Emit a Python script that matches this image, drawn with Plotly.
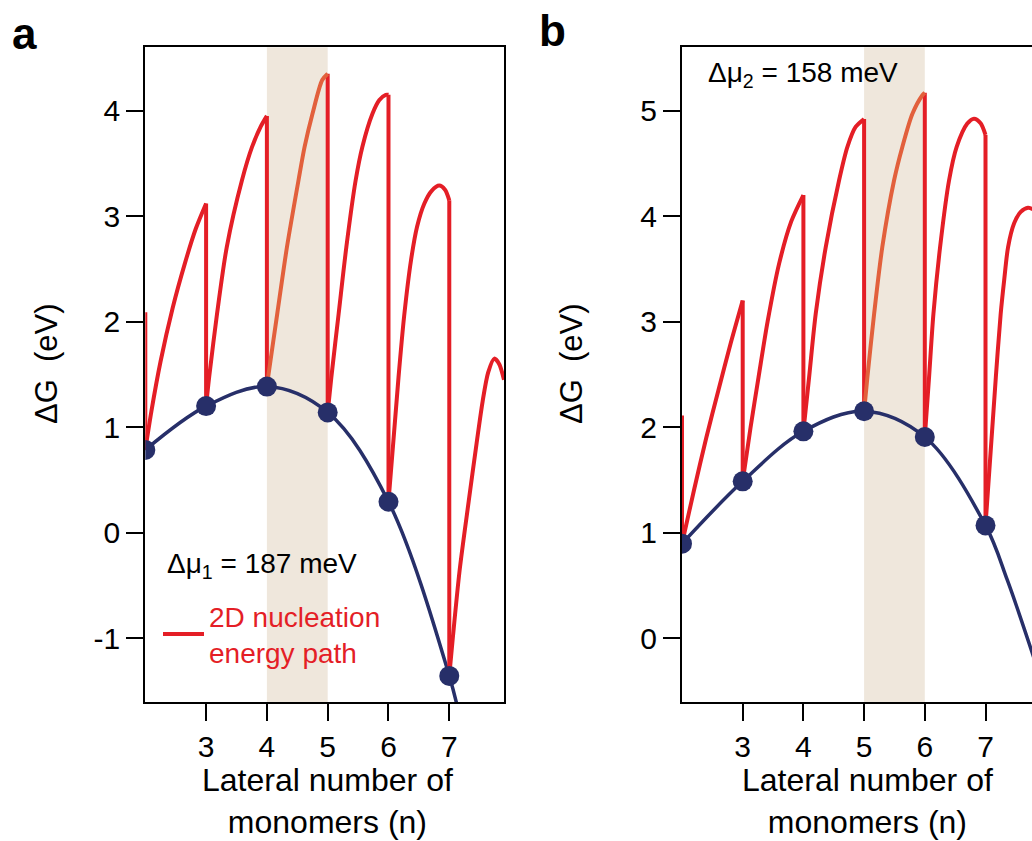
import plotly.graph_objects as go

# ---------------- data ----------------
n_sizes = [2, 3, 4, 5, 6, 7]
a_blue = [0.785, 1.20, 1.385, 1.14, 0.294, -1.357]
b_blue = [0.896, 1.487, 1.961, 2.151, 1.907, 1.069]
a_tail_x = [7.2]
a_tail_y = [-1.82]
b_tail_x = [7.36, 7.8]
b_tail_y = [0.55, -0.19]
a_drop_top = [2.09, 3.12, 3.95, 4.35, 4.15, 3.15]
b_drop_top = [2.11, 3.20, 4.20, 4.92, 5.17, 4.77]

a_path_x = [
    [2, 2.1, 2.25, 2.45, 2.65, 2.83, 3],
    [3, 3.05, 3.18, 3.34, 3.59, 3.756, 3.9, 4],
    [4, 4.02, 4.17, 4.33, 4.52, 4.62, 4.75, 4.91, 5],
    [5, 5.06, 5.18, 5.307, 5.46, 5.57, 5.736, 5.85, 5.955, 6],
    [6, 6.165, 6.257, 6.37, 6.47, 6.59, 6.71, 6.835, 6.93, 7],
    [7, 7.06, 7.17, 7.32, 7.45, 7.55, 7.64, 7.74, 7.82, 7.9],
]
a_path_y = [
    [0.785, 1.15, 1.62, 2.13, 2.55, 2.88, 3.12],
    [1.20, 1.473, 2.074, 2.707, 3.34, 3.656, 3.85, 3.95],
    [1.385, 1.473, 2.074, 2.707, 3.34, 3.656, 3.97, 4.29, 4.35],
    [1.14, 1.473, 2.074, 2.707, 3.34, 3.656, 3.97, 4.10, 4.15, 4.15],
    [0.294, 1.473, 2.05, 2.58, 2.90, 3.12, 3.24, 3.29, 3.25, 3.15],
    [-1.357, -0.985, -0.357, 0.30, 0.85, 1.25, 1.52, 1.65, 1.60, 1.45],
]
b_path_x = [
    [2, 2.2, 2.4, 2.6, 2.8, 3],
    [3, 3.13, 3.26, 3.41, 3.6, 3.8, 4],
    [4, 4.094, 4.203, 4.368, 4.588, 4.725, 4.86, 5],
    [5, 5.054, 5.165, 5.30, 5.494, 5.63, 5.796, 5.96, 6],
    [6, 6.07, 6.142, 6.252, 6.40, 6.525, 6.70, 6.81, 6.92, 7],
    [7, 7.17, 7.25, 7.307, 7.372, 7.47, 7.58, 7.7, 7.8],
]
b_path_y = [
    [0.896, 1.41, 1.90, 2.35, 2.79, 3.20],
    [1.487, 2.0, 2.47, 3.0, 3.55, 3.95, 4.2],
    [1.961, 2.473, 3.074, 3.707, 4.34, 4.656, 4.845, 4.92],
    [2.151, 2.473, 3.074, 3.707, 4.34, 4.656, 4.97, 5.146, 5.17],
    [1.907, 2.473, 3.074, 3.707, 4.34, 4.656, 4.877, 4.924, 4.88, 4.77],
    [1.069, 2.473, 3.074, 3.39, 3.707, 3.93, 4.04, 4.08, 4.06],
]
a_band = [4, 5]
b_band = [5, 6]
x_ticks = [3, 4, 5, 6, 7]
a_y_ticks = [-1, 0, 1, 2, 3, 4]
a_y_text = ["-1", "0", "1", "2", "3", "4"]
b_y_ticks = [0, 1, 2, 3, 4, 5]
b_y_text = ["0", "1", "2", "3", "4", "5"]

# ---------------- style ----------------
W, H = 1032, 841
RED = "#E41E26"
ORANGE = "#E2603C"
NAVY = "#272F69"
BAND = "#EFE7DC"
FONT = "Liberation Sans, Arial, Helvetica, sans-serif"


def px(x):
    return x / W


def py(y):
    return 1 - y / H


fig = go.Figure()


def add_panel(xa, ya, path_x, path_y, blue, tail_x, tail_y, drop_top, band, legend):
    rx, ry, ox, oy = [], [], [], []
    for sx, sy in zip(path_x, path_y):
        if sx[0] == band[0]:
            ox, oy = list(sx), list(sy)
        else:
            rx += list(sx) + [None]
            ry += list(sy) + [None]
    vx, vy = [], []
    for n, top, bot in zip(n_sizes, drop_top, blue):
        vx += [n, n, None]
        vy += [top, bot, None]
    fig.add_trace(go.Scatter(x=n_sizes + tail_x, y=blue + tail_y, mode="lines",
                             line=dict(color=NAVY, width=3.5, shape="spline", smoothing=1.0),
                             xaxis=xa, yaxis=ya, showlegend=False, hoverinfo="skip"))
    fig.add_trace(go.Scatter(x=vx, y=vy, mode="lines", line=dict(color=RED, width=4),
                             xaxis=xa, yaxis=ya, showlegend=False, hoverinfo="skip"))
    fig.add_trace(go.Scatter(x=rx, y=ry, mode="lines",
                             line=dict(color=RED, width=4, shape="spline", smoothing=0.8),
                             connectgaps=False, xaxis=xa, yaxis=ya,
                             name="2D nucleation<br>energy path", showlegend=legend))
    fig.add_trace(go.Scatter(x=ox, y=oy, mode="lines",
                             line=dict(color=ORANGE, width=4, shape="spline", smoothing=0.8),
                             xaxis=xa, yaxis=ya, showlegend=False, hoverinfo="skip"))
    fig.add_trace(go.Scatter(x=n_sizes, y=blue, mode="markers",
                             marker=dict(color=NAVY, size=20, line=dict(width=0)),
                             xaxis=xa, yaxis=ya, showlegend=False))
    fig.add_shape(type="rect", xref=xa, yref=ya + " domain", x0=band[0], x1=band[1],
                  y0=0, y1=1, fillcolor=BAND, line=dict(width=0), layer="below")


add_panel("x", "y", a_path_x, a_path_y, a_blue, a_tail_x, a_tail_y, a_drop_top, a_band, True)
add_panel("x2", "y2", b_path_x, b_path_y, b_blue, b_tail_x, b_tail_y, b_drop_top, b_band, False)

ydom = [py(702.3), py(47.3)]
axis_common = dict(showgrid=False, zeroline=False, showline=True, linecolor="black",
                   linewidth=2, ticks="outside", ticklen=17, tickwidth=2, tickcolor="black",
                   tickfont=dict(family=FONT, size=30, color="black"))

fig.update_layout(
    width=W, height=H, margin=dict(l=0, r=0, t=0, b=0),
    paper_bgcolor="white", plot_bgcolor="white",
    font=dict(family=FONT, color="black"),
    xaxis=dict(domain=[px(145.3), px(504)], range=[2, 7.9], tickvals=x_ticks,
               mirror=True, anchor="y", **axis_common),
    yaxis=dict(domain=ydom, range=[-1.607, 4.60], tickvals=a_y_ticks, ticktext=a_y_text,
               mirror=True, anchor="x", **axis_common),
    xaxis2=dict(domain=[px(682), 1.0], range=[2, 7.766], tickvals=x_ticks,
                mirror=True, anchor="y2", **axis_common),
    yaxis2=dict(domain=ydom, range=[-0.607, 5.60], tickvals=b_y_ticks, ticktext=b_y_text,
                mirror=False, anchor="x2", **axis_common),
    legend=dict(x=px(158), y=py(634), xanchor="left", yanchor="middle",
                bgcolor="rgba(0,0,0,0)", itemwidth=41,
                font=dict(family=FONT, size=28, color=RED)),
    showlegend=True,
)

annots = [
    dict(text="<b>a</b>", x=px(10), y=py(33), xanchor="left", yanchor="middle", font=dict(size=44)),
    dict(text="<b>b</b>", x=px(537), y=py(30), xanchor="left", yanchor="middle", font=dict(size=44)),
    dict(text="Lateral number of<br>monomers (n)", x=px(327), y=py(801), xanchor="center",
         yanchor="middle", font=dict(size=32)),
    dict(text="Lateral number of<br>monomers (n)", x=px(867), y=py(801), xanchor="center",
         yanchor="middle", font=dict(size=32)),
    dict(text="\u0394G\u00a0 (eV)", x=px(47), y=py(364), textangle=-90, xanchor="center",
         yanchor="middle", font=dict(size=31)),
    dict(text="\u0394G\u00a0 (eV)", x=px(572), y=py(364), textangle=-90, xanchor="center",
         yanchor="middle", font=dict(size=31)),
    dict(text="\u0394\u03bc<sub>1</sub> = 187 meV", x=px(165), y=py(565), xanchor="left",
         yanchor="middle", font=dict(size=28)),
    dict(text="\u0394\u03bc<sub>2</sub> = 158 meV", x=px(706), y=py(74), xanchor="left",
         yanchor="middle", font=dict(size=28)),
]
for a in annots:
    a.setdefault("showarrow", False)
    a["xref"] = "paper"
    a["yref"] = "paper"
    a["font"] = dict(family=FONT, color="black", **a["font"])
    fig.add_annotation(**a)

fig.write_html("out.html")
